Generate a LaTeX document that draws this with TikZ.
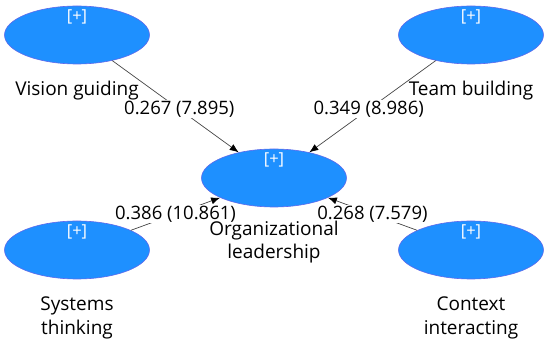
\documentclass[tikz,border=0pt]{standalone}
\usepackage{fontspec}
\setmainfont{Open Sans}
\usetikzlibrary{arrows.meta, positioning, shapes.geometric}

\definecolor{lvblue}{RGB}{30,144,255}
\definecolor{lvedge}{RGB}{95,105,235}
\definecolor{pathgray}{RGB}{70,70,70}

\tikzset{
  construct/.style={ellipse, fill=lvblue, draw=lvedge, line width=0.6pt,
    minimum width=145pt, minimum height=58pt, inner sep=0pt,
    label={[plus]center:{[+]}}},
  plus/.style={text=white, yshift=18pt, font=\fontsize{16.5}{18}\selectfont},
  caption/.style={align=center, font=\fontsize{19}{23.5}\selectfont},
  weight/.style={fill=white, inner sep=1pt, font=\fontsize{18.5}{20}\selectfont}
}

\begin{document}
\begin{tikzpicture}[node distance=2cm, on grid,
    >={Latex[length=9pt, width=7pt, color=black]}]
    \useasboundingbox (-274pt,178pt) rectangle (276pt,-164pt);

    \node[construct] (org) {};
    \node[construct] (vision) [above left=143pt and 197pt of org] {};
    \node[construct] (team) [above right=143pt and 197pt of org] {};
    \node[construct] (systems) [below left=72pt and 197pt of org] {};
    \node[construct] (context) [below right=72pt and 197pt of org] {};

    \path[->, draw=pathgray, line width=0.7pt]
    (vision)  edge node[weight, pos=0.53] {0.267 (7.895)} (org)
    (team)    edge node[weight, pos=0.53] {0.349 (8.986)} (org)
    (systems) edge node[weight] {0.386 (10.861)} (org)
    (context) edge node[weight] {0.268 (7.579)} (org);

    \node[caption] (vision-t) [below=56pt of vision] {Vision guiding};
    \node[caption] (team-t) [below=56pt of team] {Team building};
    \node[caption] (org-t) [below=64pt of org] {Organizational\\leadership};
    \node[caption] (systems-t) [below=68pt of systems] {Systems\\thinking};
    \node[caption] (context-t) [below=68pt of context] {Context\\interacting};
\end{tikzpicture}
\end{document}
